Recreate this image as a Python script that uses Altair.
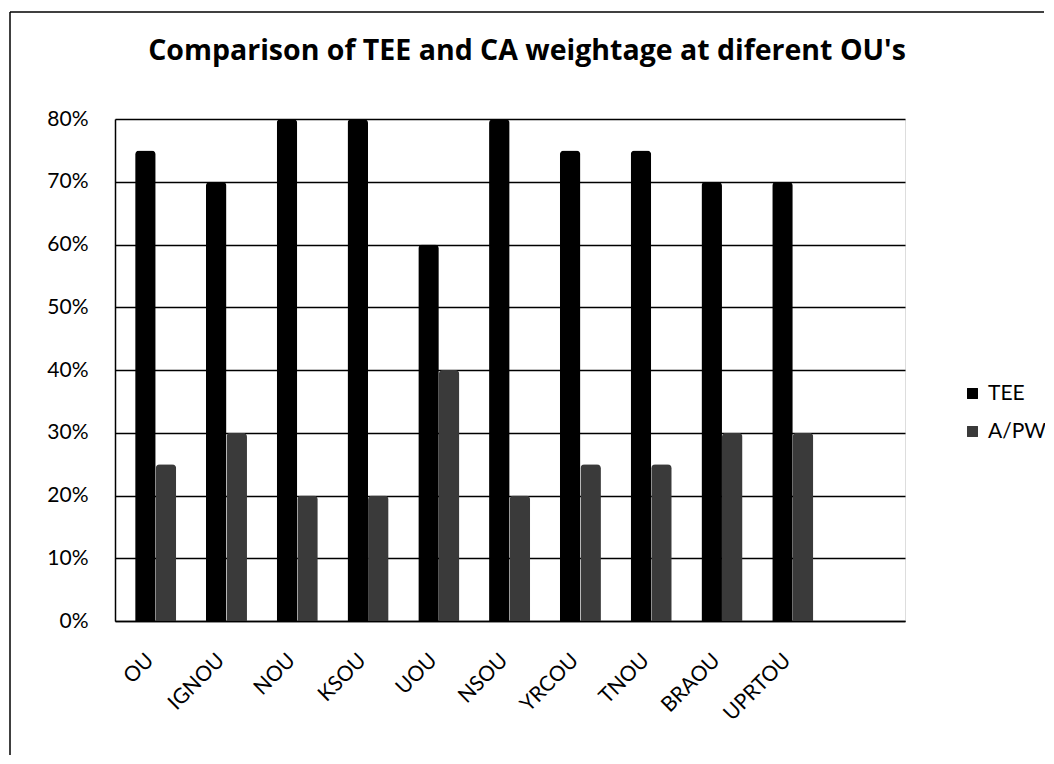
import altair as alt
import pandas as pd

universities = ["OU", "IGNOU", "NOU", "KSOU", "UOU", "NSOU", "YRCOU", "TNOU", "BRAOU", "UPRTOU"]
tee = [0.75, 0.70, 0.80, 0.80, 0.60, 0.80, 0.75, 0.75, 0.70, 0.70]
apw = [0.25, 0.30, 0.20, 0.20, 0.40, 0.20, 0.25, 0.25, 0.30, 0.30]
series = ["TEE", "A/PW"]
title_text = ["Comparison of TEE and CA weightage at diferent OU's"]

rows = []
for u, t, a in zip(universities, tee, apw):
    rows.append({"University": u, "Series": series[0], "Value": t})
    rows.append({"University": u, "Series": series[1], "Value": a})
df = pd.DataFrame(rows)
title_df = pd.DataFrame({"t": title_text})

FONT = "Lato"
W, H = 790, 502

bars = alt.Chart(df).mark_bar(cornerRadiusTopLeft=4, cornerRadiusTopRight=4).encode(
    x=alt.X("University:N", sort=universities,
            scale=alt.Scale(paddingInner=0.42, paddingOuter=0.79, align=0.18),
            axis=alt.Axis(title=None, labelAngle=-45, labelAlign="right", labelBaseline="middle",
                          labelPadding=36, labelOffset=-5, ticks=False, domain=True, domainColor="black",
                          domainWidth=1.5, labelFontSize=21, labelFont=FONT, labelColor="black")),
    xOffset=alt.XOffset("Series:N", sort=series),
    y=alt.Y("Value:Q", scale=alt.Scale(domain=[0, 0.8]),
            axis=alt.Axis(title=None, format="%", values=[0, 0.1, 0.2, 0.3, 0.4, 0.5, 0.6, 0.7, 0.8],
                          ticks=False, labelPadding=27, domain=True, domainColor="black", domainWidth=1.5,
                          grid=True, gridColor="black", gridWidth=1.5, labelFontSize=21, labelFont=FONT,
                          labelColor="black")),
    color=alt.Color("Series:N", sort=series,
                    scale=alt.Scale(domain=series, range=["#000000", "#3a3a3a"]),
                    legend=alt.Legend(title=None, orient="none", legendX=847, legendY=264,
                                      symbolType="square", symbolSize=120, symbolStrokeWidth=0,
                                      labelFontSize=21, labelFont=FONT, labelColor="black",
                                      rowPadding=16, labelOffset=5)),
)

title = alt.Chart(title_df).mark_text(font="Open Sans", fontSize=28.5, fontWeight="bold", color="black",
                                      align="center", baseline="alphabetic").encode(
    text="t:N", x=alt.value(412), y=alt.value(-59))

frame_left = alt.Chart(title_df).mark_rule(color="black", strokeWidth=1.5).encode(
    x=alt.value(-105), y=alt.value(-107), y2=alt.value(636))
frame_top = alt.Chart(title_df).mark_rule(color="black", strokeWidth=1.5).encode(
    x=alt.value(-105), x2=alt.value(929), y=alt.value(-107))

chart = alt.layer(bars, title, frame_left, frame_top).properties(
    width=W, height=H,
    autosize=alt.AutoSizeParams(type="none"),
    padding={"left": 107, "top": 111, "right": 140, "bottom": 135},
).configure_view(stroke=None).configure(background="white")

chart.save("out.html", embed_options={"renderer": "svg", "actions": False})
